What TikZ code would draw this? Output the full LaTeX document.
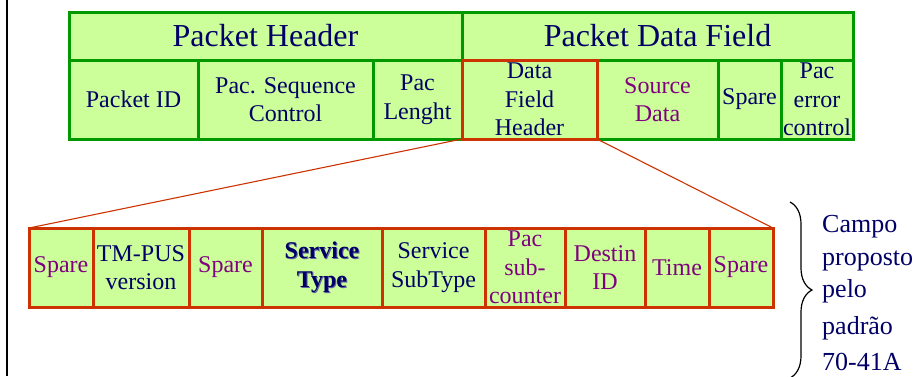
\documentclass[tikz,border=0pt]{standalone}
\usepackage{fontspec}
\setmainfont{Liberation Serif}
\usetikzlibrary{decorations.pathreplacing}
\definecolor{cellfill}{RGB}{204,255,153}
\definecolor{gborder}{RGB}{0,153,0}
\definecolor{rborder}{RGB}{204,51,0}
\definecolor{navy}{RGB}{0,0,102}
\definecolor{purp}{RGB}{128,0,128}
\newcommand\mycell[8]{%
  \node[#6, minimum width={(#3-#2)*1pt}, minimum height={(#5-#4)*1pt}] (#1) at ({(#2+#3)/2},{(#4+#5)/2}) {};
  \node[#7] (#1-t) at (#1.center) {#8};}
\tikzset{
  gcell/.style={draw=gborder, fill=cellfill, line width=3pt, inner sep=0pt, outer sep=0pt},
  rcell/.style={gcell, draw=rborder},
  txt/.style={text=navy, font=\fontsize{24}{28.5}\selectfont, align=center, inner sep=0pt},
  ptxt/.style={txt, text=purp},
  btxt/.style={txt, font=\fontsize{24}{28.5}\selectfont\bfseries},
  htxt/.style={txt, font=\fontsize{32}{36}\selectfont},
  conn/.style={draw=rborder, line width=1.1pt},
  sidetxt/.style={text=navy, font=\fontsize{26}{30}\selectfont, inner sep=0pt, anchor=base west},
}
\begin{document}
\begin{tikzpicture}[x=1pt, y=-1pt]
\useasboundingbox (0,0) rectangle (922,376);
% left rule
\coordinate (la) at (7,0);
\coordinate (lb) at (7,376);
\draw[line width=2.4pt] (la) -- (lb);
% top table
\mycell{ph}{69}{462}{12}{60}{gcell}{htxt}{Packet Header}
\mycell{pdf}{462}{853}{12}{60}{gcell}{htxt}{Packet Data Field}
\mycell{pid}{69}{198}{60}{139}{gcell}{txt}{Packet ID}
\mycell{psc}{198}{373}{60}{139}{gcell}{txt}{Pac. Sequence\\Control}
\mycell{pl}{373}{462}{60}{139}{gcell}{txt}{Pac\\Lenght}
\mycell{sd}{597}{718}{60}{139}{gcell}{ptxt}{Source\\Data}
\mycell{sp}{718}{781}{60}{139}{gcell}{txt}{Spare}
\mycell{pec}{781}{853}{60}{139}{gcell}{txt}{Pac\\error\\control}
\mycell{dfh}{462}{597}{60}{139}{rcell}{txt}{Data\\Field\\Header}
% bottom table
\mycell{bs1}{29}{93}{228}{307}{rcell}{ptxt}{Spare}
\mycell{tmv}{93}{189}{228}{307}{rcell}{txt}{TM-PUS\\version}
\mycell{bs2}{189}{262}{228}{307}{rcell}{ptxt}{Spare}
\node[rcell, minimum width=120pt, minimum height=79pt] (st) at (322,267.5) {};
\node[btxt, text=navy!60] (st-s) at ([shift={(1,1)}]st.center) {Service\\Type};
\node[btxt] (st-t) at (st.center) {Service\\Type};
\mycell{sst}{382}{485}{228}{307}{rcell}{txt}{Service\\SubType}
\mycell{psub}{485}{565}{228}{307}{rcell}{ptxt}{Pac\\sub-\\counter}
\mycell{did}{565}{645}{228}{307}{rcell}{ptxt}{Destin\\ID}
\mycell{tim}{645}{709}{228}{307}{rcell}{ptxt}{Time}
\mycell{bs3}{709}{773}{228}{307}{rcell}{ptxt}{Spare}
% connectors
\draw[conn] (dfh.south west) -- (bs1.north west);
\draw[conn] (dfh.south east) -- (bs3.north east);
% brace
\coordinate (bt) at (790,202);
\coordinate (bb) at (790,378);
\draw[line width=1.2pt, decorate, decoration={brace, amplitude=22pt}] (bt) -- (bb);
% side text
\node[sidetxt] (c1) at (822,232) {Campo};
\node[sidetxt] (c2) at (822,265) {proposto};
\node[sidetxt] (c3) at (822,297) {pelo};
\node[sidetxt] (c4) at (822,334) {padrão};
\node[sidetxt] (c5) at (822,370) {70-41A};
\end{tikzpicture}
\end{document}
